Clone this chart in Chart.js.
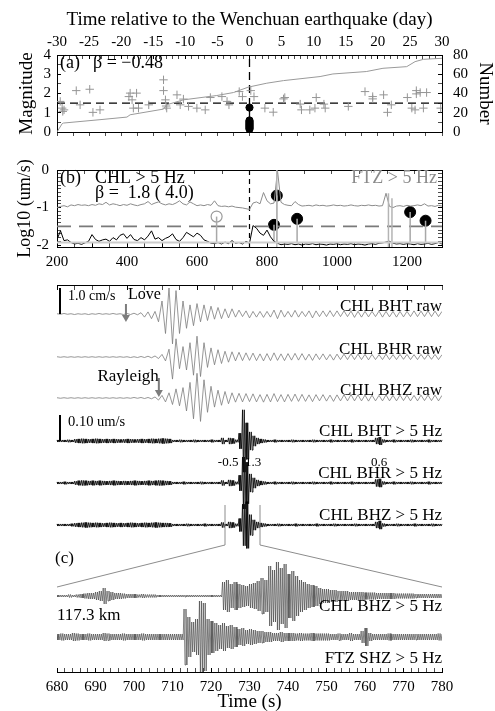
<!DOCTYPE html>
<html>
<head>
<meta charset="utf-8">
<script src="https://cdn.jsdelivr.net/npm/chart.js@4.4.1/dist/chart.umd.min.js"></script>
<style>
  html, body { margin: 0; padding: 0; background: #fff; }
  #page { position: relative; width: 495px; height: 711px; overflow: hidden; }
  .panel { position: absolute; left: 0; width: 495px; }
</style>
</head>
<body>
<div id="page">
  <div class="panel" style="top:0;height:150px"><canvas id="panelA"></canvas></div>
  <div class="panel" style="top:140px;height:125px"><canvas id="panelB"></canvas></div>
  <div class="panel" style="top:250px;height:310px"><canvas id="seis"></canvas></div>
  <div class="panel" style="top:500px;height:211px"><canvas id="panelC"></canvas></div>
</div>
<script>
// ---------- panel (a): catalogue events around the Wenchuan day ----------
const quakeDay = [-29.5, -29.2, -29.1, -28.9, -27.0, -26.4, -24.9, -24.4, -23.3, -18.8, -18.6, -18.3, -18.1, -17.6, -17.3,
  -15.7, -13.4, -13.4, -13.1, -12.9, -13.0, -11.3, -10.8, -10.3, -9.5, -8.2, -6.9, -6.1, -4.3, -3.5, -3.2, -1.6, -1.1,
  0.2, 0.7, 2.4, 3.7, 5.3, 5.5, 7.9, 8.1, 9.4, 10.2, 10.4, 11.6, 11.8, 15.4, 18.0, 19.2, 19.2, 20.9, 21.5, 22.1, 24.6,
  25.3, 25.8, 26.0, 26.0, 26.6, 27.1, 27.6, 29.8];
const quakeMag = [1.59, 1.24, 1.07, 1.15, 2.15, 1.41, 2.22, 1.02, 1.15, 1.84, 2.02, 1.67, 1.24, 2.02, 1.24,
  1.41, 2.71, 2.15, 1.67, 1.24, 1.35, 1.93, 1.41, 1.71, 1.33, 1.24, 1.15, 1.79, 1.84, 1.59, 1.41, 2.1, 1.84,
  2.15, 1.84, 1.24, 1.03, 1.72, 1.79, 1.45, 1.15, 1.15, 1.24, 1.79, 1.45, 1.24, 1.33, 2.10, 1.84, 1.72, 1.93, 1.02, 1.41, 1.79,
  1.24, 1.15, 2.15, 1.98, 2.05, 1.24, 2.05, 1.24];
const wenchuanMag = [1.27, 0.6, 0.55, 0.5, 0.45, 0.4, 0.35, 0.3, 0.25, 0.2, 0.15];
const cumDay = [-30, -29.2, -29, -23.3, -19.1, -18.6, -13.4, -12.9, -10.3, -5.1, -2.5, -0.2, 2.7, 5.3, 11, 13, 18.2, 20.8, 24.5, 25.8, 27.1, 30];
const cumCount = [0, 8.6, 9.3, 12.8, 15.5, 17.9, 23.8, 28.3, 33.4, 37.9, 41.0, 46.6, 50.7, 53.4, 57.6, 60.3, 62.8, 66.2, 67.9, 73.1, 75.5, 76.6];
const magCut = 1.5;

// ---------- panel (b): >5 Hz log amplitude, 10 s samples from 200 s ----------
const rmsT0 = 200, rmsDt = 10;
const chlLog = [-1.85, -1.62, -1.88, -1.86, -1.93, -1.97, -1.95, -1.98, -1.94, -1.9,
  -1.72, -1.85, -1.9, -1.86, -1.84, -1.9, -1.8, -1.86, -1.74, -1.7,
  -1.82, -1.72, -1.85, -1.88, -1.8, -1.86, -1.76, -1.62, -1.84, -1.8,
  -1.88, -1.82, -1.78, -1.7, -1.85, -1.9, -1.8, -1.66, -1.72, -1.78,
  -1.68, -1.74, -1.86, -1.9, -1.95, -1.96, -1.93, -1.97, -1.92, -1.96,
  -1.88, -1.95, -1.93, -1.97, -1.9, -1.95, -1.48, -1.55, -1.68, -1.74,
  -1.6, -1.78, -1.9, -1.95, -1.99, -1.97, -1.98, -1.96, -1.99, -1.97,
  -2.0, -1.97, -1.98, -1.96, -1.99, -1.97, -1.98, -2.0, -1.97, -1.98,
  -1.96, -1.99, -1.97, -1.98, -1.96, -1.99, -1.97, -1.98, -2.0, -1.97,
  -1.96, -1.98, -1.95, -1.94, -1.92, -1.9, -1.95, -1.97, -1.96, -1.98,
  -1.96, -1.97, -1.99, -1.96, -1.98, -1.97, -1.95, -1.98, -1.96, -1.93, -1.97];
const ftzLog = [-1.0, -0.97, -0.95, -0.98, -0.93, -0.95, -0.92, -0.94, -0.93, -0.95,
  -0.92, -0.94, -0.9, -0.92, -0.86, -0.93, -0.9, -0.92, -0.95, -0.92,
  -0.94, -0.9, -0.93, -0.95, -0.92, -0.9, -0.84, -0.92, -0.88, -0.85,
  -0.9, -0.93, -0.9, -0.92, -0.88, -0.82, -0.9, -0.93, -0.85, -0.9,
  -0.95, -0.93, -0.95, -0.92, -0.94, -0.82, -0.95, -0.97, -0.96, -0.98,
  -0.96, -0.99, -1.0, -1.01, -1.03, -1.05, -0.88, -0.85, -0.9, -0.6,
  -0.82, -0.9, -0.88, -0.02, -0.86, -0.92, -0.94, -0.95, -0.84, -0.92,
  -0.96, -0.95, -0.94, -0.96, -0.93, -0.95, -0.94, -0.96, -0.95, -0.93,
  -0.95, -0.94, -0.96, -0.95, -0.93, -0.95, -0.96, -0.94, -0.95, -0.93,
  -0.95, -0.94, -0.96, -0.95, -0.62, -0.97, -1.0, -0.96, -0.95, -0.97,
  -0.94, -0.96, -0.95, -0.93, -0.95, -0.9, -0.96, -0.95, -0.97, -0.94, -0.96];
const eventT = [656, 820, 828, 886, 1209, 1253];
const eventLog = [-1.24, -1.46, -0.68, -1.30, -1.12, -1.35];
const eventDetected = [false, true, true, true, true, true];
const ftzSpikeT = [828, 1147, 1157];
const ftzSpikeTop = [0, -0.62, -0.75];
const noiseFloor = -1.93, threshold = -1.5, mainShockT = 750;

// ---------- seismograms: half-cycle peak amplitudes, 10 s samples from 200 s ----------
const rawT0 = 200, rawDt = 10;            // cm/s
const rawBHT = [0.01, 0.01, 0.02, 0.01, 0.01, 0.02, 0.01, 0.01, 0.01, 0.02,
  0.01, 0.01, 0.02, 0.01, 0.01, 0.01, 0.02, 0.01, 0.01, 0.02,
  0.02, 0.02, 0.03, 0.03,
  0.05, 0.12, 0.08, 0.18, 0.1, 0.3, 0.5, 0.75, 1.0, 1.15,
  0.9, 0.75, 0.5, 0.55, 0.35, 0.45, 0.4, 0.3, 0.35, 0.25,
  0.3, 0.2, 0.25, 0.18, 0.2, 0.15, 0.2,
  0.12, 0.15, 0.1, 0.12, 0.15, 0.1, 0.12, 0.1, 0.13, 0.1,
  0.12, 0.15, 0.18, 0.15, 0.12, 0.1, 0.12, 0.14, 0.12, 0.1,
  0.1, 0.12, 0.15, 0.12, 0.1, 0.12, 0.1, 0.13, 0.1, 0.12,
  0.1, 0.12, 0.1, 0.11, 0.13, 0.1, 0.12, 0.1, 0.11, 0.1,
  0.1, 0.11, 0.12, 0.1, 0.11, 0.1, 0.12, 0.1, 0.11, 0.1,
  0.1, 0.12, 0.1, 0.11, 0.1, 0.12, 0.1, 0.11, 0.1, 0.1];
const rawBHR = [0.01, 0.01, 0.01, 0.01, 0.01, 0.01, 0.01, 0.01, 0.01, 0.01,
  0.01, 0.01, 0.01, 0.01, 0.01, 0.01, 0.01, 0.01, 0.01, 0.01,
  0.01, 0.02, 0.01, 0.02, 0.02, 0.02, 0.03, 0.03, 0.04,
  0.06, 0.1, 0.15, 0.3, 0.85, 0.7, 0.45, 0.4, 0.5, 0.55, 0.7,
  0.8, 0.75, 0.55, 0.4, 0.35, 0.3, 0.28, 0.25, 0.22, 0.2, 0.2,
  0.15, 0.18, 0.14, 0.16, 0.13, 0.15, 0.14, 0.12, 0.15, 0.13,
  0.14, 0.16, 0.13, 0.12, 0.14, 0.13, 0.12, 0.14, 0.12, 0.13,
  0.12, 0.11, 0.13, 0.12, 0.1, 0.12, 0.11, 0.1, 0.12, 0.11,
  0.1, 0.11, 0.1, 0.12, 0.1, 0.11, 0.1, 0.1, 0.11, 0.1,
  0.1, 0.09, 0.1, 0.11, 0.1, 0.09, 0.1, 0.1, 0.09, 0.1,
  0.1, 0.09, 0.1, 0.1, 0.09, 0.1, 0.09, 0.1, 0.1, 0.09];
const rawBHZ = [0.01, 0.01, 0.01, 0.01, 0.01, 0.01, 0.01, 0.01, 0.01, 0.01,
  0.01, 0.01, 0.01, 0.01, 0.01, 0.01, 0.01, 0.01, 0.01, 0.01,
  0.01, 0.01, 0.02, 0.01, 0.02, 0.02, 0.02, 0.03, 0.04,
  0.08, 0.1, 0.15, 0.2, 0.25, 0.35, 0.3, 0.4, 0.5, 0.6, 0.8,
  0.95, 0.9, 0.7, 0.55, 0.45, 0.35, 0.3, 0.28, 0.25, 0.22, 0.2,
  0.16, 0.18, 0.15, 0.17, 0.14, 0.16, 0.15, 0.13, 0.16, 0.14,
  0.15, 0.17, 0.14, 0.13, 0.15, 0.14, 0.13, 0.15, 0.13, 0.14,
  0.13, 0.12, 0.14, 0.13, 0.11, 0.13, 0.12, 0.11, 0.13, 0.12,
  0.11, 0.12, 0.11, 0.13, 0.11, 0.12, 0.11, 0.11, 0.12, 0.11,
  0.11, 0.1, 0.11, 0.12, 0.11, 0.1, 0.11, 0.11, 0.1, 0.11,
  0.11, 0.1, 0.11, 0.11, 0.1, 0.11, 0.1, 0.11, 0.11, 0.1];
const hfT0 = 200, hfDt = 10;              // um/s, > 5 Hz envelopes
const hfBHT = [0.004, 0.004, 0.004, 0.005, 0.004,
  0.007, 0.008, 0.009, 0.008, 0.007, 0.008, 0.009, 0.008, 0.007, 0.008,
  0.007, 0.008, 0.007, 0.006, 0.007, 0.008, 0.007, 0.006, 0.007, 0.008,
  0.007, 0.008, 0.009, 0.008, 0.009, 0.01, 0.009, 0.008,
  0.004, 0.004, 0.005, 0.004, 0.004, 0.004, 0.005, 0.004, 0.004, 0.004, 0.004, 0.005, 0.004, 0.004,
  0.012, 0.004, 0.012, 0.01, 0.005, 0.03, 0.12, 0.07, 0.035, 0.02, 0.012, 0.008, 0.006,
  0.004, 0.004, 0.005, 0.004, 0.004, 0.004, 0.004, 0.005, 0.004, 0.004, 0.004, 0.004, 0.004, 0.005, 0.004, 0.004,
  0.004, 0.004, 0.005, 0.004, 0.004, 0.004, 0.004, 0.004, 0.005, 0.004, 0.004, 0.004, 0.004, 0.004, 0.004,
  0.012, 0.015, 0.006,
  0.004, 0.004, 0.005, 0.004, 0.004, 0.004, 0.004, 0.005, 0.004, 0.004, 0.004, 0.004, 0.005, 0.004, 0.004, 0.004, 0.004];
const hfBHR = [0.004, 0.004, 0.005, 0.004, 0.004,
  0.007, 0.009, 0.01, 0.009, 0.008, 0.009, 0.008, 0.009, 0.008, 0.007,
  0.008, 0.009, 0.008, 0.007, 0.008, 0.007, 0.008, 0.009, 0.008, 0.007,
  0.008, 0.009, 0.008, 0.009, 0.01, 0.009, 0.008, 0.007,
  0.004, 0.004, 0.004, 0.005, 0.004, 0.004, 0.004, 0.004, 0.005, 0.004, 0.004, 0.004, 0.004, 0.004,
  0.01, 0.004, 0.012, 0.01, 0.005, 0.03, 0.1, 0.08, 0.035, 0.02, 0.012, 0.008, 0.006,
  0.004, 0.004, 0.005, 0.004, 0.004, 0.004, 0.004, 0.005, 0.004, 0.004, 0.004, 0.004, 0.004, 0.005, 0.004, 0.004,
  0.004, 0.004, 0.005, 0.004, 0.004, 0.004, 0.004, 0.004, 0.005, 0.004, 0.004, 0.004, 0.004, 0.004, 0.004,
  0.014, 0.016, 0.006,
  0.004, 0.004, 0.005, 0.004, 0.004, 0.004, 0.004, 0.005, 0.004, 0.004, 0.004, 0.004, 0.005, 0.004, 0.004, 0.004, 0.004];
const hfBHZ = [0.004, 0.004, 0.004, 0.004, 0.005,
  0.007, 0.008, 0.009, 0.01, 0.009, 0.008, 0.009, 0.008, 0.007, 0.008,
  0.009, 0.008, 0.007, 0.008, 0.007, 0.008, 0.009, 0.008, 0.007, 0.008,
  0.009, 0.008, 0.009, 0.01, 0.009, 0.008, 0.008, 0.007,
  0.004, 0.004, 0.004, 0.004, 0.005, 0.004, 0.004, 0.004, 0.004, 0.005, 0.004, 0.004, 0.004, 0.004,
  0.01, 0.004, 0.012, 0.01, 0.005, 0.025, 0.08, 0.09, 0.04, 0.02, 0.012, 0.008, 0.006,
  0.004, 0.004, 0.004, 0.005, 0.004, 0.004, 0.004, 0.004, 0.005, 0.004, 0.004, 0.004, 0.004, 0.004, 0.005, 0.004,
  0.004, 0.004, 0.004, 0.005, 0.004, 0.004, 0.004, 0.004, 0.004, 0.005, 0.004, 0.004, 0.004, 0.004, 0.004,
  0.012, 0.016, 0.006,
  0.004, 0.004, 0.004, 0.005, 0.004, 0.004, 0.004, 0.004, 0.005, 0.004, 0.004, 0.004, 0.004, 0.005, 0.004, 0.004, 0.004];
const rawNames = ['CHL BHT raw', 'CHL BHR raw', 'CHL BHZ raw'];
const hfNames = ['CHL BHT > 5 Hz', 'CHL BHR > 5 Hz', 'CHL BHZ > 5 Hz'];
const hfMagT = [689, 760, 1120];
const hfMagText = ['-0.5', '1.3', '0.6'];
const loveT = 397, rayleighT = 491;
const rawBar = 1.0, hfBar = 0.10;
const zoomStart = 680, zoomEnd = 780;

// ---------- panel (c): 1 s peak amplitudes from 680 s ----------
const zoomT0 = 680, zoomDt = 1;
const zoomCHL = [1, 1, 1, 1.5, 1, 1.5, 2,
  2.5, 3, 3, 4, 5, 8, 5, 4, 3, 3, 2.5,
  2, 2, 2, 1.5, 2, 1.5, 1.5, 1.5, 1, 1, 1, 1, 1, 1, 1, 1, 1, 1, 1, 1, 1, 1, 1, 1, 1,
  14, 16, 12, 14, 12, 11, 10, 12, 13, 15, 18, 16, 30, 26, 34, 28, 32, 22, 25, 20, 16, 14, 12, 11, 10, 8, 7, 7,
  6, 6, 5, 5, 5, 4, 4, 4, 4, 3.5, 3.5, 3.5, 3, 3, 3, 3, 3, 2.5, 2.5, 2.5, 2.5, 2.5, 2, 2, 2, 2, 2, 2, 2, 2];
const zoomFTZ = [3, 3.5, 3, 3, 4, 3.5, 3, 3, 3.5, 3, 3, 3, 4, 3.5, 3, 3, 3, 3.5, 3, 3, 3, 3, 3.5, 3, 3, 3, 3, 3, 3, 3, 3, 3, 3,
  28, 20, 15, 18, 36, 34, 18, 16, 14, 12, 14, 11, 12, 10, 8, 9, 7, 8, 7, 6, 6, 5, 5,
  4, 4, 5, 4, 4, 4, 3.5, 4, 3.5, 3.5, 4, 3.5, 3.5, 3.5, 3.5, 3, 3, 3.5, 3, 3, 4, 3, 3, 6, 9,
  4, 3, 3, 3, 3, 3.5, 3, 3, 3, 3, 3, 3, 3, 3, 3, 3, 3, 3, 3.5, 3];

// ---------- layout of the traces (pixels below the axis line) ----------
const rawBase = [29, 72, 113], hfBase = [156, 198, 240];
const rawGain = 26, hfGain = 260;
const zoomBase = [51, 92];

const SERIF = 'Liberation Serif';
Chart.defaults.font.family = SERIF;
Chart.defaults.color = '#000';
Chart.defaults.animation = false;

function isMultiple(v, step) {
  const r = v / step;
  return Math.abs(r - Math.round(r)) < 1e-6;
}

function axisOpts(o) {
  return {
    type: 'linear',
    position: o.position,
    min: o.min,
    max: o.max,
    reverse: !!o.reverse,
    display: o.display !== false,
    afterFit: (s) => {
      // labels may overhang the frame; do not let them shrink the plot area
      s.paddingTop = s.paddingBottom = s.paddingLeft = s.paddingRight = 0;
      if (o.fit === undefined) return;
      if (s.isHorizontal()) s.height = o.fit; else s.width = o.fit;
    },
    border: { display: true, color: '#000', width: 1 },
    grid: {
      drawOnChartArea: false, drawTicks: true, tickLength: o.tick ?? -4,
      tickColor: '#000',
      tickWidth: (c) => (c.tick && o.labelEvery && isMultiple(c.tick.value, o.labelEvery) ? 1 : 0.7)
    },
    ticks: {
      display: o.labels !== false,
      stepSize: o.step,
      includeBounds: false,
      autoSkip: false,
      maxRotation: 0,
      minRotation: 0,
      maxTicksLimit: 1000,
      padding: o.pad ?? 10,
      font: { size: 15 },
      color: '#000',
      callback: (v) => (o.labelEvery && isMultiple(v, o.labelEvery) ? String(Math.round(v)) : '')
    },
    title: o.title
      ? { display: true, text: o.title, color: '#000', font: { size: o.titleSize || 19 }, padding: { top: o.titlePad, bottom: o.titlePad } }
      : { display: false }
  };
}

function pts(xs, ys) { return xs.map((x, i) => ({ x, y: ys[i] })); }
function timeSeries(t0, dt, vals) { return vals.map((v, i) => ({ x: t0 + i * dt, y: v })); }

// one extreme per sample, alternating up / down
function alternate(t0, dt, amps, base, gain) {
  return amps.map((a, i) => ({ x: t0 + i * dt, y: base + (i % 2 ? a : -a) * gain }));
}

// n extremes per sample, for the dense high-frequency bands
function dense(t0, dt, amps, base, gain, n) {
  const out = [];
  amps.forEach((a, i) => {
    for (let k = 0; k < n; k++) out.push({ x: t0 + i * dt + k * dt / n, y: base + (k % 2 ? a : -a) * gain });
  });
  return out;
}

function line(data, color, width, extra) {
  return Object.assign({
    data, showLine: true, pointRadius: 0, borderColor: color, borderWidth: width,
    borderJoinStyle: 'round', fill: false
  }, extra || {});
}

function text(ctx, str, x, y, size, align, color) {
  ctx.save();
  ctx.font = size + 'px "' + SERIF + '"';
  ctx.fillStyle = color || '#000';
  ctx.textAlign = align || 'left';
  ctx.textBaseline = 'middle';
  ctx.fillText(str, x, y);
  ctx.restore();
}

function arrow(ctx, x, yTop, yTip, color) {
  ctx.save();
  ctx.strokeStyle = color;
  ctx.fillStyle = color;
  ctx.lineWidth = 2;
  ctx.beginPath(); ctx.moveTo(x, yTop); ctx.lineTo(x, yTip - 6); ctx.stroke();
  ctx.beginPath(); ctx.moveTo(x - 4, yTip - 7); ctx.lineTo(x + 4, yTip - 7); ctx.lineTo(x, yTip); ctx.closePath(); ctx.fill();
  ctx.restore();
}

function segment(ctx, x1, y1, x2, y2, color, width) {
  ctx.save();
  ctx.strokeStyle = color;
  ctx.lineWidth = width;
  ctx.beginPath(); ctx.moveTo(x1, y1); ctx.lineTo(x2, y2); ctx.stroke();
  ctx.restore();
}

const baseOptions = (padding, scales) => ({
  responsive: true,
  maintainAspectRatio: false,
  events: [],
  layout: { padding },
  plugins: { legend: { display: false }, tooltip: { enabled: false } },
  scales
});

// ---------- panel (a) ----------
new Chart(document.getElementById('panelA'), {
  type: 'scatter',
  data: {
    datasets: [
      line(pts(cumDay, cumCount), '#9a9a9a', 1, { yAxisID: 'y2' }),
      { data: pts(quakeDay, quakeMag), pointStyle: 'cross', pointRadius: 4.2, borderColor: '#959595', borderWidth: 1 },
      line([{ x: -30, y: magCut }, { x: 30, y: magCut }], '#000', 1.3, { borderDash: [8, 5] }),
      line([{ x: 0, y: 0 }, { x: 0, y: 4 }], '#000', 1.3, { borderDash: [8, 5] }),
      { data: wenchuanMag.map((m) => ({ x: 0, y: m })), pointRadius: 3.6, backgroundColor: '#000', borderColor: '#000' }
    ]
  },
  options: baseOptions({ left: 0, right: 0, top: 0, bottom: 18 }, {
    x: axisOpts({ position: 'top', min: -30, max: 30, step: 1, labelEvery: 5, fit: 55, pad: 8, title: 'Time relative to the Wenchuan earthquake (day)', titlePad: 8.6 }),
    xb: axisOpts({ position: 'bottom', min: -30, max: 30, step: 2.5, labels: false, fit: 0, tick: 4 }),
    y: axisOpts({ position: 'left', min: 0, max: 4, step: 0.5, labelEvery: 1, fit: 57, pad: 10, title: 'Magnitude', titlePad: 15.6 }),
    y2: axisOpts({ position: 'right', min: 0, max: 80, step: 10, labelEvery: 20, fit: 53, pad: 15, title: 'Number', titlePad: -1 })
  }),
  plugins: [{
    id: 'notesA',
    afterDatasetsDraw(chart) {
      const { ctx, chartArea: ca } = chart;
      text(ctx, '(a)', ca.left + 3, ca.top + 8, 18);
      text(ctx, 'β = −0.48', ca.left + 36, ca.top + 8, 18);
    }
  }]
});

// ---------- panel (b) ----------
const stems = eventT.map((t, i) => line([{ x: t, y: noiseFloor }, { x: t, y: eventLog[i] }], '#a8a8a8', 1.5));
const spikes = ftzSpikeT.map((t, i) => line([{ x: t, y: -2.05 }, { x: t, y: ftzSpikeTop[i] }], '#b4b4b4', 1.5));
new Chart(document.getElementById('panelB'), {
  type: 'scatter',
  data: {
    datasets: [
      line([{ x: 200, y: noiseFloor }, { x: 1300, y: noiseFloor }], '#cdcdcd', 2),
      ...spikes,
      line(timeSeries(rmsT0, rmsDt, ftzLog), '#8c8c8c', 1),
      line(timeSeries(rmsT0, rmsDt, chlLog), '#000', 1),
      ...stems,
      line([{ x: 200, y: threshold }, { x: 1300, y: threshold }], '#7a7a7a', 1.6, { borderDash: [14, 8] }),
      line([{ x: mainShockT, y: -2.05 }, { x: mainShockT, y: 0 }], '#000', 1.2, { borderDash: [5, 4] }),
      {
        data: pts(eventT, eventLog).filter((p, i) => eventDetected[i]),
        pointRadius: 5.5, backgroundColor: '#000', borderColor: '#000'
      },
      {
        data: pts(eventT, eventLog).filter((p, i) => !eventDetected[i]),
        pointRadius: 5.5, backgroundColor: '#fff', borderColor: '#9a9a9a', borderWidth: 1.2
      }
    ]
  },
  options: baseOptions({ left: 0, right: 0, top: 0, bottom: 18 }, {
    x: axisOpts({ position: 'bottom', min: 200, max: 1300, step: 50, labelEvery: 100, labels: false, fit: 0 }),
    xTop: axisOpts({ position: 'top', min: -3375, max: 3844, step: 500, labelEvery: 1000, fit: 30 }),
    y: axisOpts({ position: 'left', min: -2.05, max: 0, step: 0.1, labelEvery: 1, fit: 57, pad: 12, title: 'Log10 (um/s)', titleSize: 18, titlePad: 14 }),
    y2: axisOpts({ position: 'right', min: -2.05, max: 0, step: 0.1, labelEvery: 1, labels: false, fit: 53 })
  }),
  plugins: [{
    id: 'notesB',
    afterDatasetsDraw(chart) {
      const { ctx, chartArea: ca } = chart;
      text(ctx, '(b)', ca.left + 3, ca.top + 8, 18);
      text(ctx, 'CHL > 5 Hz', ca.left + 38, ca.top + 8, 18);
      text(ctx, 'β =  1.8 ( 4.0)', ca.left + 38, ca.top + 23, 18);
      text(ctx, 'FTZ > 5 Hz', ca.right - 5, ca.top + 8, 18, 'right', '#8a8a8a');
    }
  }]
});

// ---------- seismogram section ----------
const rawSets = [rawBHT, rawBHR, rawBHZ].map((a, i) => line(alternate(rawT0, rawDt, a, rawBase[i], rawGain), '#7c7c7c', 0.8));
const hfSets = [hfBHT, hfBHR, hfBHZ].map((a, i) => line(dense(hfT0, hfDt, a, hfBase[i], hfGain, 4), '#000', 0.8, { clip: false }));
const seisChart = new Chart(document.getElementById('seis'), {
  type: 'scatter',
  data: { datasets: [...rawSets, ...hfSets] },
  options: baseOptions({ left: 57, right: 53, top: 0, bottom: 15 }, {
    x: axisOpts({ position: 'top', min: 200, max: 1300, step: 50, labelEvery: 200, fit: 35, pad: 19, tick: -5 }),
    y: { type: 'linear', display: false, min: 0, max: 260, reverse: true }
  }),
  plugins: [{
    id: 'notesSeis',
    afterDatasetsDraw(chart) {
      const { ctx, chartArea: ca, scales: { x, y } } = chart;
      rawNames.forEach((n, i) => text(ctx, n, ca.right, y.getPixelForValue(rawBase[i]) - 7, 17, 'right'));
      hfNames.forEach((n, i) => text(ctx, n, ca.right, y.getPixelForValue(hfBase[i]) - 9, 17, 'right'));

      const bx = ca.left + 3;
      segment(ctx, bx, y.getPixelForValue(rawBase[0]), bx, y.getPixelForValue(rawBase[0] - rawBar * rawGain), '#000', 2);
      text(ctx, rawBar.toFixed(1) + ' cm/s', bx + 8, y.getPixelForValue(rawBase[0]) - 18, 14);
      segment(ctx, bx, y.getPixelForValue(hfBase[0]), bx, y.getPixelForValue(hfBase[0] - hfBar * hfGain), '#000', 2);
      text(ctx, hfBar.toFixed(2) + ' um/s', bx + 8, y.getPixelForValue(hfBase[0]) - 19, 14.5);

      const lx = x.getPixelForValue(loveT);
      const ly = y.getPixelForValue(rawBase[0]);
      arrow(ctx, lx, ly - 10, ly + 8, '#7c7c7c');
      text(ctx, 'Love', lx + 2, ly - 19, 16);
      const rx = x.getPixelForValue(rayleighT);
      const ry = y.getPixelForValue(rawBase[2]);
      arrow(ctx, rx, ry - 20, ry - 1, '#7c7c7c');
      text(ctx, 'Rayleigh', rx, ry - 21, 17, 'right');

      hfMagT.forEach((t, i) => text(ctx, hfMagText[i], x.getPixelForValue(t), y.getPixelForValue(hfBase[1]) - 20, 13, 'center'));

      const wTop = y.getPixelForValue(hfBase[2] - 20);
      [zoomStart, zoomEnd].forEach((t) => segment(ctx, x.getPixelForValue(t), wTop, x.getPixelForValue(t), ca.bottom, '#8c8c8c', 1));
    }
  }]
});

// ---------- panel (c) ----------
new Chart(document.getElementById('panelC'), {
  type: 'scatter',
  data: {
    datasets: [
      line(dense(zoomT0, zoomDt, zoomCHL, zoomBase[0], 1, 4), '#383838', 0.6),
      line(dense(zoomT0, zoomDt, zoomFTZ, zoomBase[1], 1, 4), '#383838', 0.6)
    ]
  },
  options: baseOptions({ left: 57, right: 53, top: 45, bottom: 0 }, {
    x: axisOpts({ position: 'bottom', min: 680, max: 780, step: 2, labelEvery: 10, fit: 39, pad: 10, title: 'Time (s)', titlePad: -2 }),
    y: { type: 'linear', display: false, min: 0, max: 127, reverse: true }
  }),
  plugins: [{
    id: 'notesC',
    afterDatasetsDraw(chart) {
      const { ctx, chartArea: ca, scales: { y } } = chart;
      const sx = seisChart.scales.x;
      const yEnd = y.getPixelForValue(42);
      segment(ctx, sx.getPixelForValue(zoomStart), ca.top, ca.left, yEnd, '#8c8c8c', 1);
      segment(ctx, sx.getPixelForValue(zoomEnd), ca.top, ca.right, yEnd, '#8c8c8c', 1);
      text(ctx, '(c)', ca.left - 2, ca.top + 14, 17);
      text(ctx, '117.3 km', ca.left, y.getPixelForValue(zoomBase[0]) + 20, 17);
      text(ctx, 'CHL BHZ > 5 Hz', ca.right, y.getPixelForValue(zoomBase[0]) + 11, 17, 'right');
      text(ctx, 'FTZ SHZ > 5 Hz', ca.right, y.getPixelForValue(zoomBase[1]) + 22, 17, 'right');
    }
  }]
});
</script>
</body>
</html>
